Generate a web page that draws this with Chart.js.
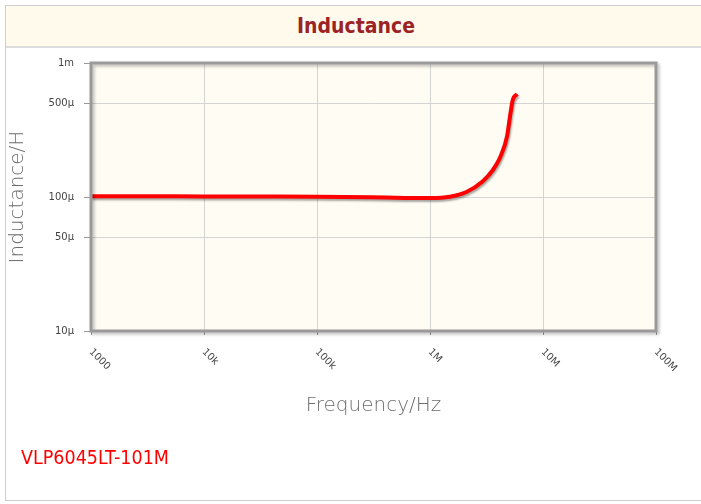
<!DOCTYPE html>
<html>
<head>
<meta charset="utf-8">
<script src="https://cdn.jsdelivr.net/npm/chart.js@4"></script>
<style>
  body { margin: 0; background: #fff; }
  #frame { position: absolute; left: 5px; top: 5px; width: 710px; height: 496px; border: 1px solid #cfcfcf; box-sizing: border-box; }
  #head { position: absolute; left: 6px; top: 6px; width: 700px; height: 40px; background: #fffaec; border-bottom: 2px solid #dcdcdc;
          font: bold 21px "DejaVu Sans Condensed", "DejaVu Sans", sans-serif; color: #9b2325; text-align: center; line-height: 40px; }
  #part { position: absolute; left: 21px; top: 446px; font: 19.5px "DejaVu Sans Condensed", "DejaVu Sans", sans-serif; color: #ff0000; }
  #wrap { position: absolute; left: 0; top: 0; width: 701px; height: 504px; }
</style>
</head>
<body>
<div id="frame"></div>
<div id="head">Inductance</div>
<div id="wrap"><canvas id="myChart"></canvas></div>
<div id="part">VLP6045LT-101M</div>
<script>
// frequency in Hz, inductance in uH
const freqs = [1000, 3000, 10000, 30000, 100000, 300000, 600000, 1000000, 1500000, 2100000, 2900000, 3600000, 4200000, 4800000, 5100000, 5400000, 5900000];
const inductUH = [101.5, 101.3, 101, 100.8, 100.5, 99.5, 98.5, 98.3, 100.5, 109, 130, 159, 200, 282, 397, 530, 587];

const xTicks = [1e3, 1e4, 1e5, 1e6, 1e7, 1e8];
const xLabels = ['1000', '10k', '100k', '1M', '10M', '100M'];
const yTicks = [1e-5, 5e-5, 1e-4, 5e-4, 1e-3];
const yLabels = ['10μ', '50μ', '100μ', '500μ', '1m'];

const points = freqs.map((f, i) => ({ x: f, y: inductUH[i] * 1e-6 }));

const plotDeco = {
  id: 'plot-deco',
  beforeDraw: (chart) => {
    const { ctx, chartArea: a } = chart;
    ctx.save();
    ctx.fillStyle = '#fffcf3';
    ctx.fillRect(a.left, a.top, a.right - a.left, a.bottom - a.top);
    ctx.restore();
  },
  beforeDatasetDraw: (chart) => {
    const ctx = chart.ctx;
    ctx.save();
    ctx.shadowColor = 'rgba(0,0,0,0.35)';
    ctx.shadowOffsetX = 1;
    ctx.shadowOffsetY = 2;
    ctx.shadowBlur = 2;
  },
  afterDatasetDraw: (chart) => {
    chart.ctx.restore();
  },
  afterDraw: (chart) => {
    const { ctx, chartArea: a } = chart;
    const xs = chart.scales.x;
    // frame with shadow
    ctx.save();
    ctx.shadowColor = 'rgba(0,0,0,0.25)';
    ctx.shadowOffsetX = 2;
    ctx.shadowOffsetY = 2;
    ctx.shadowBlur = 3;
    ctx.strokeStyle = '#9a9a9a';
    ctx.lineWidth = 3;
    ctx.strokeRect(a.left, a.top, a.right - a.left, a.bottom - a.top);
    ctx.restore();
    // rotated x labels
    ctx.save();
    ctx.fillStyle = '#444';
    ctx.font = '10px "DejaVu Sans", sans-serif';
    ctx.textAlign = 'left';
    ctx.textBaseline = 'top';
    xTicks.forEach((v, i) => {
      const px = xs.getPixelForValue(v);
      ctx.save();
      ctx.translate(px + 3, a.bottom + 16);
      ctx.rotate(Math.PI / 4);
      ctx.fillText(xLabels[i], 0, 0);
      ctx.restore();
    });
    ctx.restore();
  }
};

new Chart(document.getElementById('myChart'), {
  type: 'line',
  data: {
    datasets: [{
      data: points,
      borderColor: '#ff0000',
      borderWidth: 4,
      pointRadius: 0,
      cubicInterpolationMode: 'monotone',
      fill: false
    }]
  },
  options: {
    responsive: true,
    maintainAspectRatio: false,
    animation: false,
    layout: { padding: { top: 63, right: 45, left: 0, bottom: 84 } },
    plugins: { legend: { display: false }, tooltip: { enabled: false } },
    scales: {
      x: {
        type: 'logarithmic',
        min: 1e3,
        max: 1e8,
        afterBuildTicks: (s) => { s.ticks = xTicks.map(v => ({ value: v })); },
        afterFit: (s) => { s.height = 89; },
        ticks: { display: false },
        grid: { color: '#d4d4d4', tickColor: '#9a9a9a', tickLength: 4, lineWidth: 1 },
        border: { display: false },
        title: {
          display: true,
          text: 'Frequency/Hz',
          color: '#6e6e6e',
          font: { family: '"DejaVu Sans"', size: 20, weight: 200 },
          padding: { top: 0, bottom: 2 }
        }
      },
      y: {
        type: 'logarithmic',
        min: 1e-5,
        max: 1e-3,
        afterBuildTicks: (s) => { s.ticks = yTicks.map(v => ({ value: v })); },
        afterFit: (s) => { s.width = 91; },
        ticks: {
          color: '#444',
          font: { family: '"DejaVu Sans"', size: 10 },
          padding: 10,
          callback: (v) => { const i = yTicks.findIndex(t => Math.abs(t - v) / t < 1e-6); return i >= 0 ? yLabels[i] : ''; }
        },
        grid: { color: '#d4d4d4', tickColor: '#9a9a9a', tickLength: 7, lineWidth: 1 },
        border: { display: false },
        title: {
          display: true,
          text: 'Inductance/H',
          color: '#6e6e6e',
          font: { family: '"DejaVu Sans"', size: 20, weight: 200 },
          padding: { top: 6, bottom: 0 }
        }
      }
    }
  },
  plugins: [plotDeco]
});
</script>
</body>
</html>
